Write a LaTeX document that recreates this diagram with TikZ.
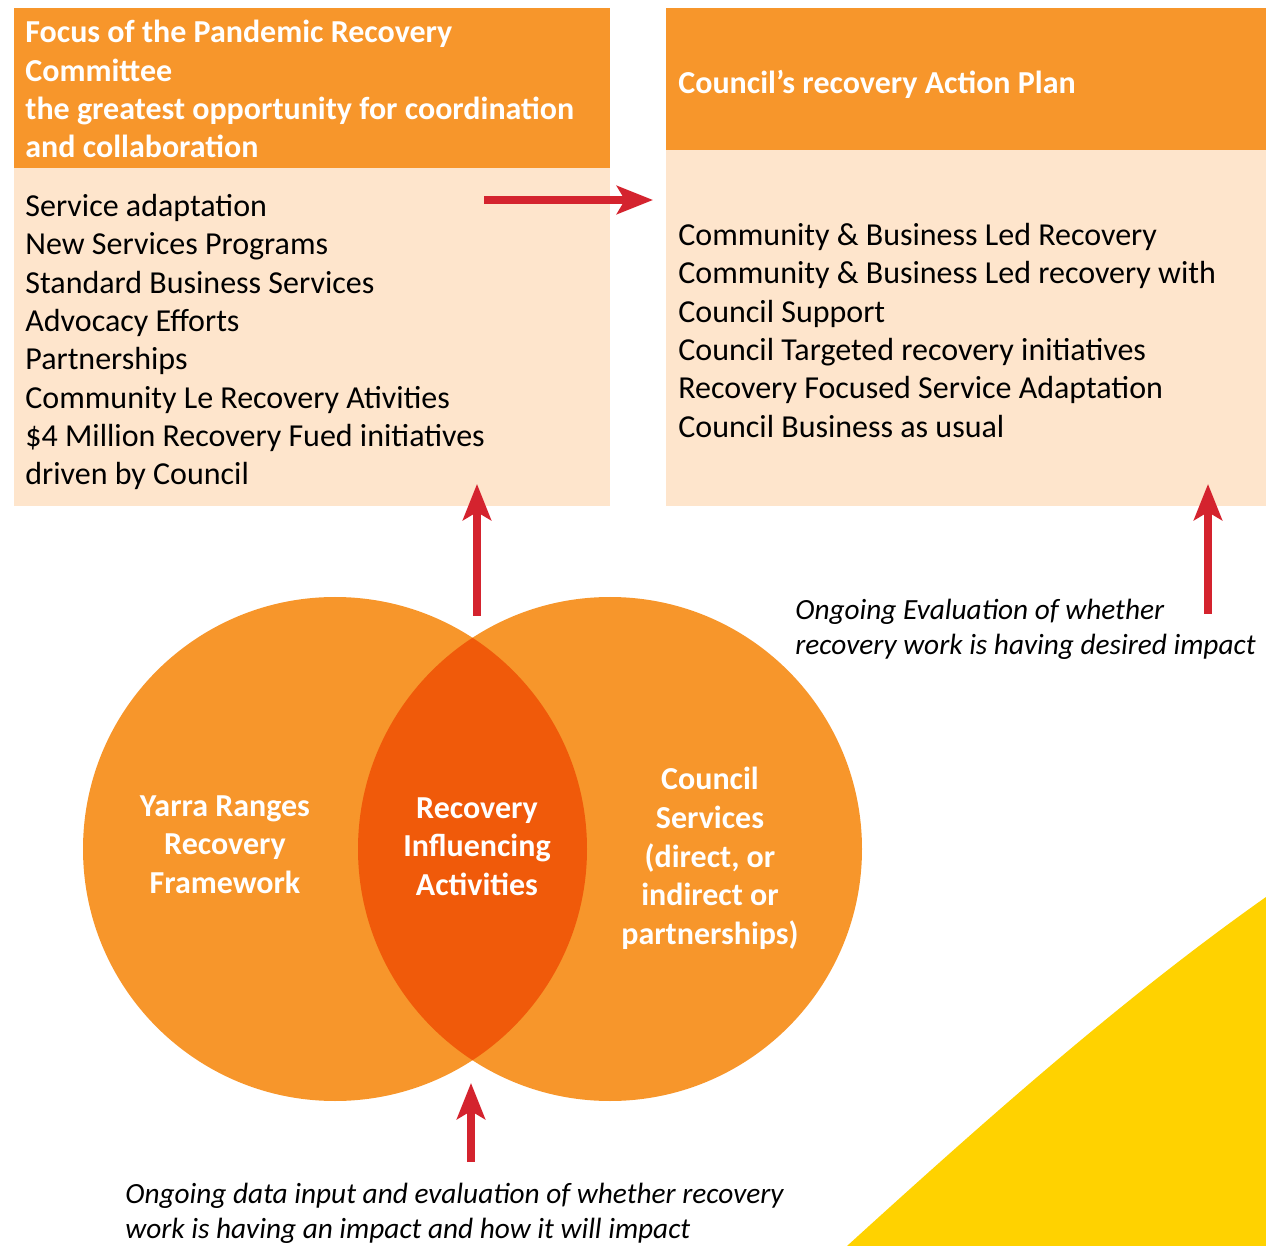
\documentclass[tikz,border=0pt]{standalone}
\usepackage{fontspec}
\setmainfont{Carlito}
\usetikzlibrary{arrows.meta}
\definecolor{hdr}{RGB}{247,150,43}
\definecolor{peach}{RGB}{254,229,204}
\definecolor{core}{RGB}{240,90,10}
\definecolor{arr}{RGB}{212,35,46}
\definecolor{sun}{RGB}{255,210,0}
\begin{document}
\begin{tikzpicture}[x=0.5pt,y=-0.5pt,
 panel/.style={draw=none,inner sep=0pt,outer sep=0pt,anchor=north west},
 bodytxt/.style={inner sep=0pt,anchor=north west,align=left,font=\fontsize{16}{19.15}\selectfont},
 hdrtxt/.style={bodytxt,text=white,font=\bfseries\fontsize{16}{19.15}\selectfont},
 circtxt/.style={inner sep=0pt,anchor=north,align=center,text=white,font=\bfseries\fontsize{16}{19.3}\selectfont},
 note/.style={inner sep=0pt,anchor=north west,align=left,font=\itshape\fontsize{14.65}{17.4}\selectfont},
 redarrow/.style={draw=arr,line width=4pt,-{Stealth[length=18pt,width=14pt,inset=4pt]}}]
\useasboundingbox (0,0) rectangle (1266,1246);
% yellow corner
\fill[sun] (847,1246) .. controls (980,1125) and (1120,1000) .. (1266,897) -- (1266,1246) -- cycle;
% panels
\node[panel,fill=hdr,minimum width=298pt,minimum height=80pt] (hL) at (14,8) {};
\node[panel,fill=peach,minimum width=298pt,minimum height=169pt] (bL) at (14,168) {};
\node[panel,fill=hdr,minimum width=300pt,minimum height=71pt] (hR) at (666,8) {};
\node[panel,fill=peach,minimum width=300pt,minimum height=178pt] (bR) at (666,150) {};
% panel texts
\node[hdrtxt] (tHL) at (25,20) {Focus of the Pandemic Recovery\\Committee\\the greatest opportunity for coordination\\and collaboration};
\node[bodytxt] (tBL) at (25,194) {Service adaptation\\New Services Programs\\Standard Business Services\\Advocacy Efforts\\Partnerships\\Community Le Recovery Ativities\\\$4 Million Recovery Fued initiatives\\driven by Council};
\node[hdrtxt] (tHR) at (678,70) {Council’s recovery Action Plan};
\node[bodytxt] (tBR) at (678,223) {Community \& Business Led Recovery\\Community \& Business Led recovery with\\Council Support\\Council Targeted recovery initiatives\\Recovery Focused Service Adaptation\\Council Business as usual};
% circles
\node[circle,fill=hdr,minimum size=252pt,inner sep=0pt] (cL) at (335,849) {};
\node[circle,fill=hdr,minimum size=252pt,inner sep=0pt] (cR) at (610,849) {};
\begin{scope}
\clip (cL.center) circle (126pt);
\fill[core] (cR.center) circle (126pt);
\end{scope}
\node[circtxt] (tL) at (225,795) {Yarra Ranges\\Recovery\\Framework};
\node[circtxt] (tM) at (477,797) {Recovery\\Influencing\\Activities};
\node[circtxt] (tR) at (710,767) {Council\\Services\\(direct, or\\indirect or\\partnerships)};
% notes
\node[note] (n1) at (795,599) {Ongoing Evaluation of whether\\recovery work is having desired impact};
\node[note] (n2) at (125,1183) {Ongoing data input and evaluation of whether recovery\\work is having an impact and how it will impact};
% arrows
\coordinate (a1s) at (484,200); \coordinate (a1e) at (653,200);
\coordinate (a2s) at (477,616); \coordinate (a2e) at (477,484);
\coordinate (a3s) at (1208,614); \coordinate (a3e) at (1208,484);
\coordinate (a4s) at (471,1162); \coordinate (a4e) at (471,1083);
\draw[redarrow] (a1s) -- (a1e);
\draw[redarrow] (a2s) -- (a2e);
\draw[redarrow] (a3s) -- (a3e);
\draw[redarrow] (a4s) -- (a4e);
\end{tikzpicture}
\end{document}
